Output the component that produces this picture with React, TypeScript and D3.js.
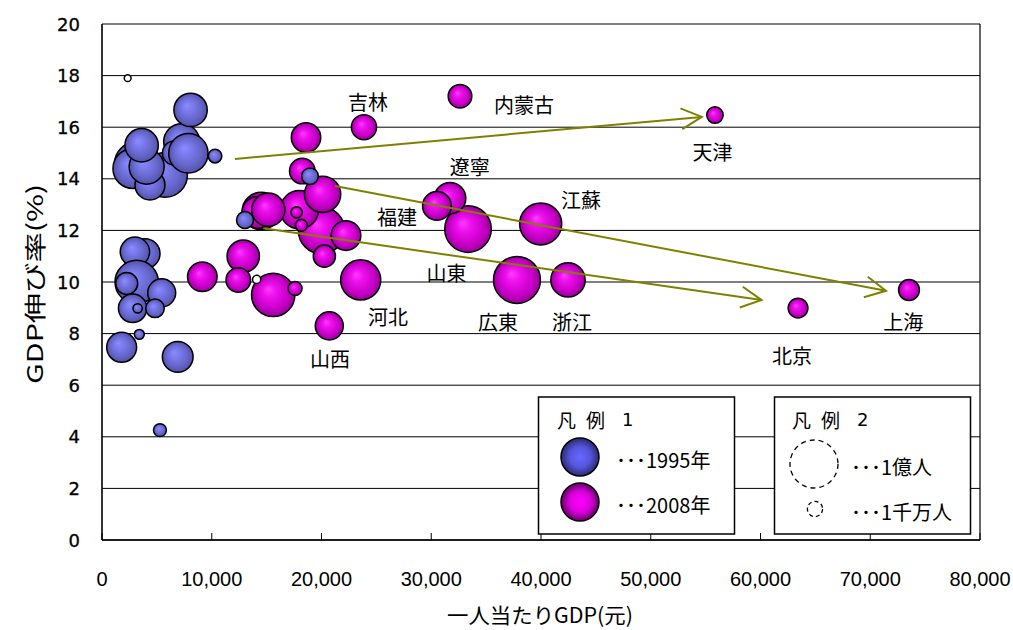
import React from "react";
import * as d3 from "d3";

const W = 1013;
const H = 630;
const plot = { left: 102, right: 980, top: 24, bottom: 540 };

// Axis ticks
const xTicks = [0, 10000, 20000, 30000, 40000, 50000, 60000, 70000, 80000];
const yTicks = [0, 2, 4, 6, 8, 10, 12, 14, 16, 18, 20];

// 2008: per-capita GDP (元), GDP growth (%), population (万人)
const names2008 = ["広東", "河南", "山東", "四川", "江蘇", "河北", "湖南", "安徽", "江西", "湖北", "浙江", "広西", "雲南", "遼寧", "黒龍江", "貴州", "陝西", "福建", "山西", "重慶", "吉林", "甘粛", "内蒙古", "新疆", "上海", "北京", "天津", "海南", "寧夏", "青海", "西蔵"];
const gdp2008 = [37810, 20010, 33350, 15600, 39970, 23570, 17980, 14490, 14210, 20100, 42460, 15150, 12870, 31710, 22230, 9140, 18590, 30520, 20710, 18250, 23870, 12420, 32620, 20260, 73530, 63420, 55850, 17590, 18160, 17730, 14090];
const growth2008 = [10.08, 12.0, 12.05, 9.5, 12.25, 10.08, 12.8, 12.75, 12.7, 13.4, 10.08, 12.8, 11.0, 13.25, 11.8, 10.2, 15.6, 12.95, 8.3, 14.3, 16.0, 10.08, 17.2, 11.0, 9.69, 8.99, 16.47, 9.75, 12.2, 12.7, 10.1];
const pop2008 = [9544, 9429, 9417, 8138, 7677, 6989, 6380, 6135, 4400, 5711, 5120, 4816, 4543, 4315, 3825, 3793, 3762, 3604, 3411, 2839, 2734, 2628, 2414, 2131, 1888, 1695, 1176, 854, 618, 554, 287];

// 1995: per-capita GDP (元), GDP growth (%), population (万人)
const gdp1995 = [3060, 2820, 5740, 4370, 4070, 3610, 7260, 6600, 7870, 8070, 10300, 2340, 18950, 13030, 3920, 3000, 3160, 2250, 5440, 2790, 3250, 4830, 3400, 1790, 6900, 5280];
const growth1995 = [14.6, 14.4, 14.15, 13.76, 14.47, 15.3, 15.44, 15.0, 14.99, 16.67, 14.88, 17.9, 14.1, 12.4, 11.1, 11.17, 10.0, 9.94, 9.58, 8.98, 8.98, 8.98, 7.97, 7.47, 7.1, 4.26];
const pop1995 = [7660, 6940, 8705, 3900, 5320, 4840, 5630, 2500, 6740, 4840, 800, 200, 1200, 1251, 3900, 3750, 8170, 2100, 3400, 3500, 380, 1500, 430, 3900, 4092, 724];

// Province labels, placed in data units
const labelText = ["吉林", "内蒙古", "天津", "遼寧", "江蘇", "福建", "山東", "河北", "広東", "浙江", "上海", "山西", "北京"];
const labelX = [24240, 38450, 55630, 33500, 43640, 26880, 31400, 26060, 36080, 42820, 73000, 20770, 62870];
const labelY = [16.98, 16.88, 15.05, 14.47, 13.18, 12.52, 10.35, 8.66, 8.46, 8.46, 8.46, 7.02, 7.17];

// Movement arrows (1995 -> 2008), data units
const arrowFromX = [12120, 21230, 14700];
const arrowFromY = [14.77, 13.72, 12.08];
const arrowToX = [54650, 71430, 60100];
const arrowToY = [16.4, 9.66, 9.3];

const FONT = "'Noto Sans CJK JP', 'Noto Sans', sans-serif";

const x = d3.scaleLinear().domain([0, 80000]).range([plot.left, plot.right]);
const y = d3.scaleLinear().domain([0, 20]).range([plot.bottom, plot.top]);
// 1億人 (10000万人) -> radius 24px
const r = d3.scaleSqrt().domain([0, 10000]).range([0, 24]);

type Pt = { gx: number; gr: number; p: number };

function Bubble({ d, fill }: { d: Pt; fill: string }) {
  const rad = r(d.p);
  const small = rad < 4.5;
  return (
    <circle
      cx={x(d.gx)}
      cy={y(d.gr)}
      r={rad}
      fill={small ? "#ffffff" : fill}
      stroke="#000"
      strokeWidth={1.5}
    />
  );
}

function Arrow({ i }: { i: number }) {
  const x1 = x(arrowFromX[i]);
  const y1 = y(arrowFromY[i]);
  const x2 = x(arrowToX[i]);
  const y2 = y(arrowToY[i]);
  const ang = Math.atan2(y2 - y1, x2 - x1);
  const len = 23;
  const spread = (27 * Math.PI) / 180;
  const w1 = [x2 - len * Math.cos(ang - spread), y2 - len * Math.sin(ang - spread)];
  const w2 = [x2 - len * Math.cos(ang + spread), y2 - len * Math.sin(ang + spread)];
  return (
    <g stroke="#808000" strokeWidth={2} fill="none">
      <line x1={x1} y1={y1} x2={x2} y2={y2} />
      <polyline points={`${w1[0]},${w1[1]} ${x2},${y2} ${w2[0]},${w2[1]}`} />
    </g>
  );
}

function LegendTitle({ x0, n }: { x0: number; n: string }) {
  return (
    <g fontSize={19}>
      <text x={x0} y={419} dominantBaseline="central">凡</text>
      <text x={x0 + 29} y={419} dominantBaseline="central">例</text>
      <text x={x0 + 65} y={419} dominantBaseline="central" fontFamily="'DejaVu Sans', sans-serif" fontSize={18}>{n}</text>
    </g>
  );
}

export default function App() {
  const pts2008: Pt[] = gdp2008.map((g, i) => ({ gx: g, gr: growth2008[i], p: pop2008[i] }));
  const pts1995: Pt[] = gdp1995.map((g, i) => ({ gx: g, gr: growth1995[i], p: pop1995[i] }));
  const fmt = d3.format(",");

  return (
    <svg width={W} height={H} style={{ display: "block", position: "absolute", left: 0, top: 0 }} fontFamily={FONT}>
      <defs>
        <radialGradient id="g95" cx="50%" cy="50%" r="50%" fx="38%" fy="36%">
          <stop offset="0%" stopColor="#8c8cff" />
          <stop offset="30%" stopColor="#7b7bee" />
          <stop offset="70%" stopColor="#6666cc" />
          <stop offset="100%" stopColor="#5252a8" />
        </radialGradient>
        <radialGradient id="g08" cx="50%" cy="50%" r="50%" fx="38%" fy="36%">
          <stop offset="0%" stopColor="#ff3cff" />
          <stop offset="30%" stopColor="#ee10ee" />
          <stop offset="70%" stopColor="#cc00cc" />
          <stop offset="100%" stopColor="#990099" />
        </radialGradient>
        <radialGradient id="lg95" cx="50%" cy="50%" r="50%" fx="50%" fy="50%">
          <stop offset="0%" stopColor="#6868ff" />
          <stop offset="55%" stopColor="#5555dd" />
          <stop offset="100%" stopColor="#2a2a70" />
        </radialGradient>
        <radialGradient id="lg08" cx="50%" cy="50%" r="50%" fx="50%" fy="50%">
          <stop offset="0%" stopColor="#ff00ff" />
          <stop offset="55%" stopColor="#dd00dd" />
          <stop offset="100%" stopColor="#660066" />
        </radialGradient>
      </defs>

      <rect x={0} y={0} width={W} height={H} fill="#fff" />

      {/* horizontal gridlines */}
      {yTicks.map((t) => (
        <line key={`gy${t}`} x1={plot.left} x2={plot.right} y1={y(t)} y2={y(t)} stroke="#000" strokeWidth={1} />
      ))}
      {/* frame */}
      <line x1={plot.right} x2={plot.right} y1={plot.top} y2={plot.bottom} stroke="#000" strokeWidth={1.2} />
      <line x1={plot.left} x2={plot.left} y1={plot.top} y2={plot.bottom} stroke="#000" strokeWidth={1.6} />
      <line x1={plot.left} x2={plot.right} y1={plot.bottom} y2={plot.bottom} stroke="#000" strokeWidth={1.6} />
      {/* x tick marks */}
      {xTicks.map((t) => (
        <line key={`tx${t}`} x1={x(t)} x2={x(t)} y1={plot.bottom} y2={plot.bottom - 7} stroke="#000" strokeWidth={1} />
      ))}

      {/* bubbles */}
      {pts2008.map((d, i) => (
        <Bubble key={`b08${i}`} d={d} fill="url(#g08)" />
      ))}
      {pts1995.map((d, i) => (
        <Bubble key={`b95${i}`} d={d} fill="url(#g95)" />
      ))}

      {/* arrows */}
      {arrowFromX.map((_, i) => (
        <Arrow key={`ar${i}`} i={i} />
      ))}

      {/* province labels */}
      {labelText.map((t, i) => (
        <text key={`lb${i}`} x={x(labelX[i])} y={y(labelY[i])} fontSize={20} textAnchor="middle" dominantBaseline="central" fill="#000">
          {t}
        </text>
      ))}

      {/* y tick labels */}
      {yTicks.map((t) => (
        <text key={`ly${t}`} x={80} y={y(t)} fontSize={18} textAnchor="end" dominantBaseline="central" fill="#000" fontFamily="'DejaVu Sans', sans-serif" stroke="#000" strokeWidth={0.3}>
          {t}
        </text>
      ))}
      {/* x tick labels */}
      {xTicks.map((t) => (
        <text key={`lx${t}`} x={x(t)} y={579} fontSize={20} textAnchor="middle" dominantBaseline="central" fill="#000" fontFamily="'Liberation Sans Narrow', 'Liberation Sans', sans-serif">
          {fmt(t)}
        </text>
      ))}

      {/* axis titles */}
      <text x={540} y={614} fontSize={21} textAnchor="middle" dominantBaseline="central" textLength={186} lengthAdjust="spacingAndGlyphs">一人当たりGDP(元)</text>
      <text transform="translate(33,284) rotate(-90)" fontSize={22} textAnchor="middle" dominantBaseline="central" textLength={200} lengthAdjust="spacingAndGlyphs">GDP伸び率(%)</text>

      {/* legend 1 */}
      <g>
        <rect x={538.5} y={397} width={196} height={137} fill="#fff" stroke="#000" strokeWidth={1.5} />
        <LegendTitle x0={557} n="1" />
        <circle cx={580} cy={457} r={19} fill="url(#lg95)" stroke="#000" strokeWidth={1.5} />
        <circle cx={580} cy={502} r={19} fill="url(#lg08)" stroke="#000" strokeWidth={1.5} />
        <text x={616} y={459} fontSize={20} dominantBaseline="central">･･･1995年</text>
        <text x={616} y={504} fontSize={20} dominantBaseline="central">･･･2008年</text>
      </g>
      {/* legend 2 */}
      <g>
        <rect x={774.5} y={397} width={196} height={137} fill="#fff" stroke="#000" strokeWidth={1.5} />
        <LegendTitle x0={792} n="2" />
        <circle cx={814} cy={464} r={r(10000)} fill="none" stroke="#000" strokeWidth={1.3} strokeDasharray="5,4" />
        <circle cx={815} cy={509} r={r(1000)} fill="none" stroke="#000" strokeWidth={1.3} strokeDasharray="4,3" />
        <text x={851} y={466} fontSize={20} dominantBaseline="central">･･･1億人</text>
        <text x={851} y={511} fontSize={20} dominantBaseline="central">･･･1千万人</text>
      </g>
    </svg>
  );
}
